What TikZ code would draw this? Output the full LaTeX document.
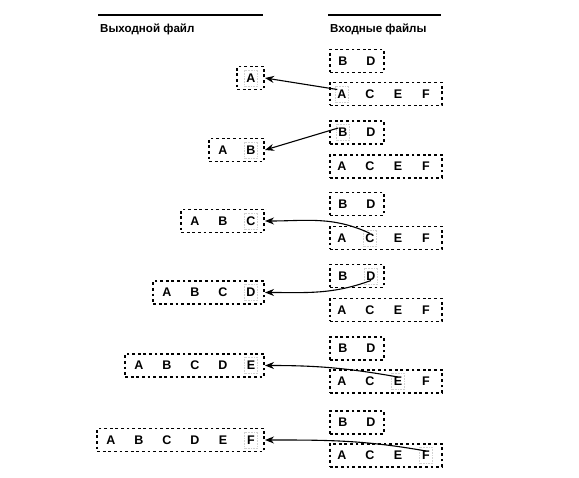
\documentclass[tikz,border=0pt]{standalone}
\usepackage{fontspec}
\setmainfont{Liberation Sans}
\usetikzlibrary{arrows.meta}
\begin{document}
\begin{tikzpicture}[x=1pt,y=-1pt,
  box/.style={draw, line width=1.6pt, dash pattern=on 2.8pt off 2.8pt, minimum height=23pt, inner sep=0pt},
  let/.style={font=\fontsize{12.5}{12.5}\selectfont\bfseries, inner sep=0pt},
  hl/.style={draw=gray!35, densely dotted, line width=0.6pt, minimum width=13pt, minimum height=16pt, inner sep=0pt},
  hdr/.style={font=\fontsize{11.6}{13}\selectfont\bfseries, anchor=base west, inner sep=0pt},
  conn/.style={line width=1.1pt, -{Stealth[length=9pt,width=7pt]}},
  rulel/.style={line width=1.8pt}]
\useasboundingbox (0,0) rectangle (579,478);
% headers
\coordinate (l1a) at (98,15); \coordinate (l1b) at (263,15);
\coordinate (l2a) at (328,15); \coordinate (l2b) at (441,15);
\draw[rulel] (l1a) -- (l1b);
\draw[rulel] (l2a) -- (l2b);
\node[hdr] (hout) at (100,32.5) {Выходной файл};
\node[hdr] (hin) at (330,32.5) {Входные файлы};
% rows
\foreach \i/\yb/\ya/\yo in {1/61/94/78, 2/132.5/166.5/150, 3/204/238/221, 4/276/310/292.5, 5/348.5/381.5/365.5, 6/422.5/455.5/440}{
  \node[box, minimum width=54pt, anchor=west] (bd\i) at (329,\yb) {};
  \node[let] (b\i) at (343,\yb) {B};
  \node[let] (d\i) at (371,\yb) {D};
  \node[box, minimum width=112pt, anchor=west] (ac\i) at (329,\ya) {};
  \node[let] (a\i) at (342,\ya) {A};
  \node[let] (c\i) at (370,\ya) {C};
  \node[let] (e\i) at (398,\ya) {E};
  \node[let] (f\i) at (426,\ya) {F};
  \pgfmathsetmacro\w{28*\i-1}
  \node[box, anchor=east, minimum width=\w pt] (out\i) at (265,\yo) {};
  \foreach \k/\L in {1/A,2/B,3/C,4/D,5/E,6/F}{
    \ifnum\k>\i\else
      \pgfmathsetmacro\xx{251-28*(\i-\k)}
      \node[let] (o\i-\k) at (\xx,\yo) {\L};
    \fi
  }
}
% highlights
\foreach \n in {a1,b2,c3,d4,e5,f6,o1-1,o2-2,o3-3,o4-4,o5-5,o6-6}{
  \node[hl] (hl-\n) at (\n) {};
}
% connectors
\draw[conn] (a1.north west) -- (out1.east);
\draw[conn] (b2.north west) -- (out2.east);
\draw[conn] (c3.north) to[out=155,in=0] (out3.east);
\draw[conn] (d4.south) to[out=200,in=0] (out4.east);
\draw[conn] (e5.north) to[out=170,in=0] (out5.east);
\draw[conn] (f6.north) to[out=170,in=0] (out6.east);
\end{tikzpicture}
\end{document}
